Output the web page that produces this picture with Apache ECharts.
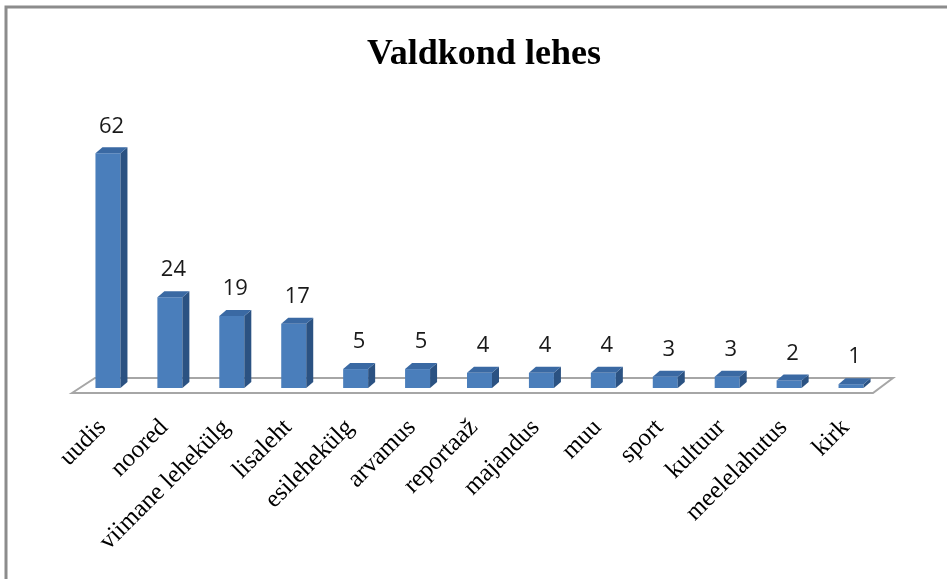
<!DOCTYPE html>
<html>
<head>
<meta charset="utf-8">
<script src="https://cdn.jsdelivr.net/npm/echarts@6/dist/echarts.min.js"></script>
<style>
  html, body { margin: 0; padding: 0; background: #fff; }
  #main { width: 947px; height: 579px; }
</style>
</head>
<body>
<div id="main"></div>
<script>
var myChart1 = echarts.init(document.getElementById('main'));

var categories = ['uudis', 'noored', 'viimane lehekülg', 'lisaleht', 'esilehekülg', 'arvamus',
  'reportaaž', 'majandus', 'muu', 'sport', 'kultuur', 'meelelahutus', 'kirk'];
var counts = [62, 24, 19, 17, 5, 5, 4, 4, 4, 3, 3, 2, 1];

var barData = counts.map(function (v, i) { return [i, v]; });

// bar with a side and a top face, like the old 3D column look
function renderBar(params, api) {
  var base = api.coord([api.value(0), 0]);
  var top = api.coord([api.value(0), api.value(1)]);
  var w = 25, dx = 7, dy = 6;
  var l = base[0] - w / 2, r = base[0] + w / 2;
  return {
    type: 'group',
    children: [
      { type: 'rect', shape: { x: l, y: top[1], width: w, height: base[1] - top[1] },
        style: { fill: '#4a7ebb' } },
      { type: 'polygon', shape: { points: [[r, top[1]], [r + dx, top[1] - dy], [r + dx, base[1] - dy], [r, base[1]]] },
        style: { fill: '#2b5282' } },
      { type: 'polygon', shape: { points: [[l, top[1]], [l + dx, top[1] - dy], [r + dx, top[1] - dy], [r, top[1]]] },
        style: { fill: '#3a69a3' } },
      { type: 'text', style: { text: String(api.value(1)), x: base[0] + dx / 2, y: top[1] - dy - 10,
        textAlign: 'center', textVerticalAlign: 'bottom', fill: '#1a1a1a',
        font: '22px "Open Sans", sans-serif' } }
    ]
  };
}

// floor under the bars
function renderFloor(params, api) {
  var cs = params.coordSys;
  var yf = cs.y + cs.height + 5, yb = cs.y + cs.height - 10;
  var x0 = cs.x, x1 = cs.x + cs.width;
  return {
    type: 'polygon',
    shape: { points: [[x0 - 5, yf], [x0 + 18, yb], [x1 + 11, yb], [x1 - 9, yf]] },
    style: { fill: '#fff', stroke: '#a6a6a6', lineWidth: 2 }
  };
}

var option = {
  animation: false,
  title: {
    text: 'Valdkond lehes',
    left: 479,
    textAlign: 'center',
    top: 32,
    textStyle: { fontFamily: 'Liberation Serif', fontWeight: 'bold', fontSize: 36, color: '#000' }
  },
  graphic: [
    { type: 'polyline', shape: { points: [[6, 579], [6, 7], [947, 7]] },
      style: { stroke: '#8c8c8c', lineWidth: 3, fill: null } }
  ],
  grid: { left: 77, right: 65, top: 123, bottom: 191 },
  xAxis: {
    type: 'category',
    data: categories,
    axisLine: { show: false },
    axisTick: { show: false },
    axisLabel: {
      rotate: 45, interval: 0, margin: 30, padding: [0, 8, 0, 0],
      fontFamily: 'Liberation Serif', fontSize: 25, color: '#000'
    }
  },
  yAxis: { type: 'value', min: 0, max: 70, show: false, splitLine: { show: false } },
  series: [
    { type: 'custom', renderItem: renderFloor, data: [[0, 0]], silent: true, z: 1 },
    { type: 'custom', renderItem: renderBar, data: barData, z: 2 }
  ]
};
myChart1.setOption(option);
</script>
</body>
</html>
